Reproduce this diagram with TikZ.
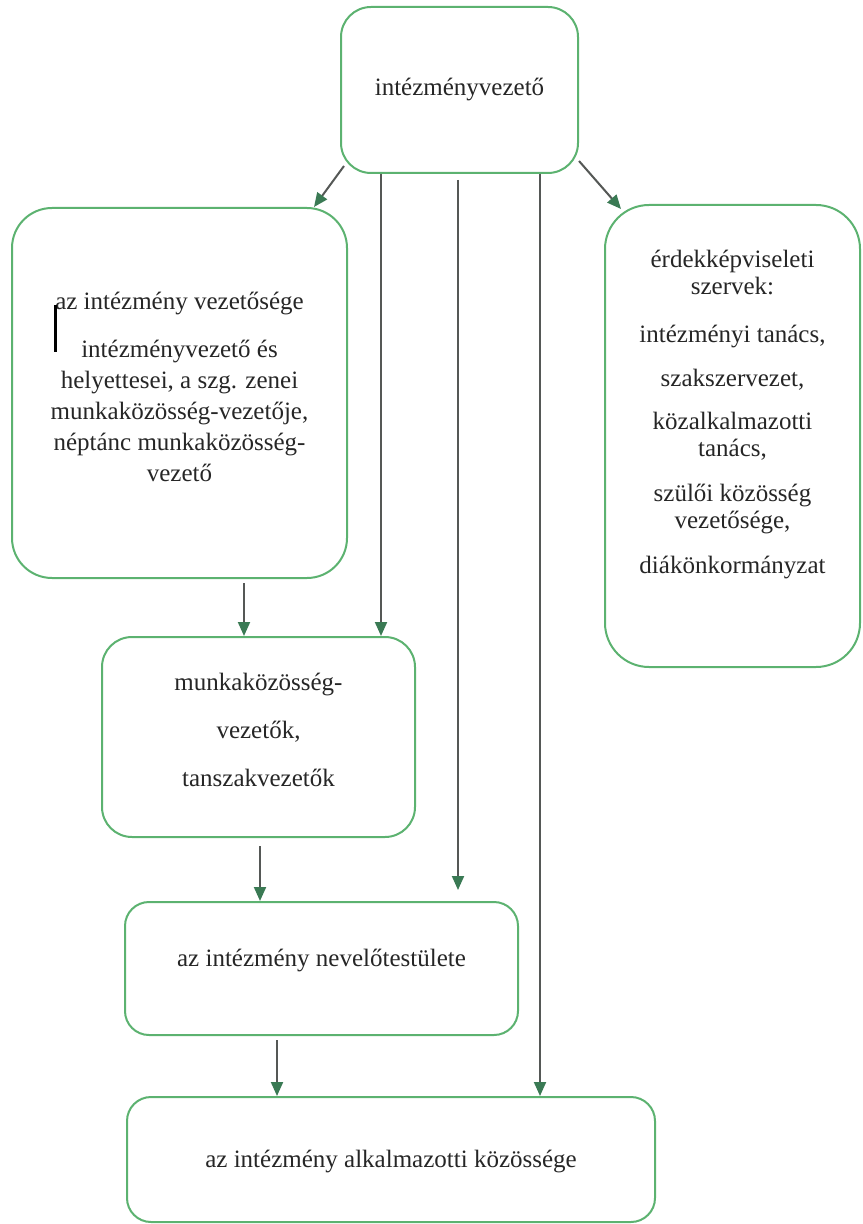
\documentclass[tikz,border=0pt]{standalone}
\usepackage{fontspec}
\setmainfont{Liberation Serif}
\usetikzlibrary{arrows.meta}
\definecolor{boxgreen}{RGB}{92,178,112}
\definecolor{tipgreen}{RGB}{58,122,84}
\definecolor{linegray}{RGB}{85,88,86}
\tikzset{
  orgbox/.style={draw=boxgreen, line width=1pt, inner sep=0pt},
  orgtext/.style={align=center, font=\fontsize{12.5}{15.5}\selectfont, text=black!85},
  arr/.style={draw=linegray, line width=1pt, -{Triangle[length=7pt,width=6pt,color=tipgreen]}}
}

\begin{document}
\begin{tikzpicture}[x=0.5pt,y=-0.5pt]
\useasboundingbox (0,0) rectangle (862,1224);

\node[orgbox, rounded corners=15pt, minimum width=118.5pt, minimum height=83pt] (head) at (459.5,90) {};
\node[orgbox, rounded corners=20pt, minimum width=167.5pt, minimum height=185pt] (lead) at (179.5,393) {};
\node[orgbox, rounded corners=22pt, minimum width=127.5pt, minimum height=231pt] (rep) at (732.5,436) {};
\node[orgbox, rounded corners=15pt, minimum width=156.5pt, minimum height=100pt] (wg) at (258.5,737) {};
\node[orgbox, rounded corners=12pt, minimum width=196.5pt, minimum height=66.5pt] (staff) at (321.5,968.5) {};
\node[orgbox, rounded corners=12pt, minimum width=264pt, minimum height=62.5pt] (empl) at (391,1159.5) {};

\node[orgtext] (head-t) at (head.center) {intézményvezető};
\node[orgtext, yshift=3.25pt] (lead-t) at (lead.center)
  {az intézmény vezetősége\\[8.5pt]
   intézményvezető és\\ helyettesei, a szg. zenei\\ munkaközösség-vezetője,\\
   néptánc munkaközösség-\\ vezető};
\node[orgtext, font=\fontsize{12.5}{13.5}\selectfont, yshift=10.5pt] (rep-t) at (rep.center)
  {érdekképviseleti\\ szervek:\\[10.5pt] intézményi tanács,\\[8.5pt] szakszervezet,\\[8pt]
   közalkalmazotti\\ tanács,\\[9pt] szülői közösség\\ vezetősége,\\[9pt] diákönkormányzat};
\node[orgtext, font=\fontsize{12.5}{24}\selectfont, yshift=3.5pt] (wg-t) at (wg.center)
  {munkaközösség-\\ vezetők,\\ tanszakvezetők};
\node[orgtext, yshift=4pt] (staff-t) at (staff.center) {az intézmény nevelőtestülete};
\node[orgtext, yshift=-1pt] (empl-t) at (empl.center) {az intézmény alkalmazotti közössége};

\draw[line width=1.5pt] (55,305) -- (55,352);

\coordinate (a1) at (381,0);
\coordinate (a2) at (458,180);
\coordinate (a2end) at (458,890);
\coordinate (a3) at (540,0);
\coordinate (b1) at (244,0);
\coordinate (b2) at (260,0);
\coordinate (b3) at (277,0);

\draw[arr] ([xshift=2pt,yshift=4pt]head.south west) -- ([xshift=-17pt]lead.north east);
\draw[arr] ([yshift=6.5pt]head.south east) -- ([xshift=8.5pt,yshift=-2.5pt]rep.north west);
\draw[arr] (head.south -| a1) -- (wg.north -| a1);
\draw[arr] (a2) -- (a2end);
\draw[arr] (head.south -| a3) -- (empl.north -| a3);

\draw[arr, shorten <=2pt] (lead.south -| b1) -- (wg.north -| b1);
\draw[arr, shorten <=4pt] (wg.south -| b2) -- (staff.north -| b2);
\draw[arr, shorten <=2pt] (staff.south -| b3) -- (empl.north -| b3);

\end{tikzpicture}
\end{document}
